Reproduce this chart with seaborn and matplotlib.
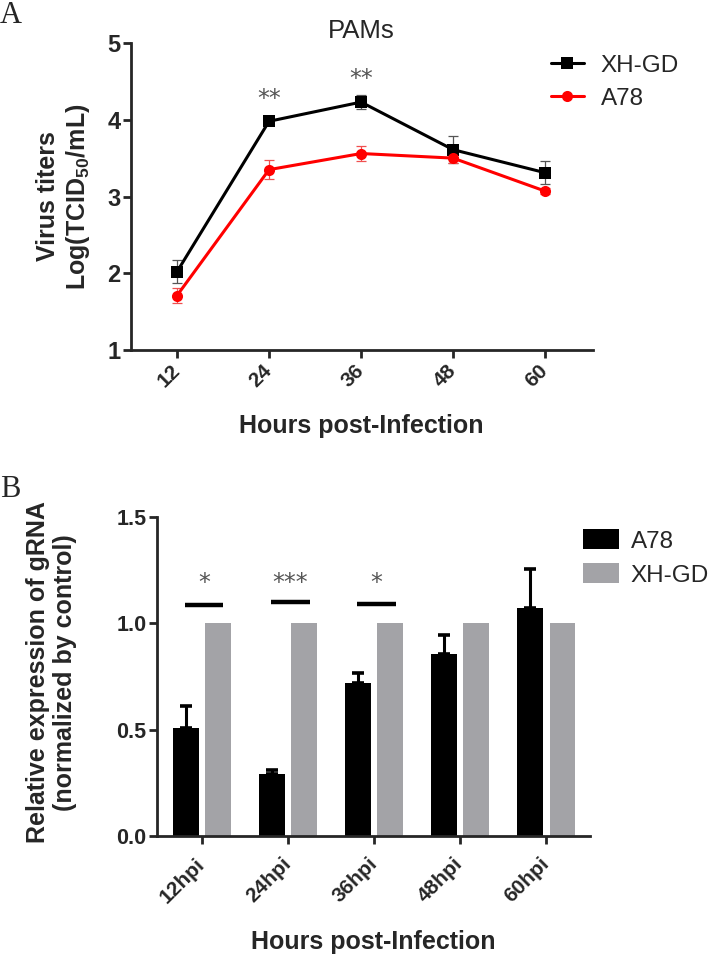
import numpy as np
import pandas as pd
import matplotlib
matplotlib.use("Agg")
import matplotlib.pyplot as plt
import seaborn as sns
from matplotlib.lines import Line2D
from matplotlib.patches import Patch

# ---------------- data ----------------
hours = [12, 24, 36, 48, 60]
xhgd_titer = [2.02, 3.98, 4.23, 3.61, 3.31]
xhgd_sem = [0.15, 0.03, 0.09, 0.18, 0.15]
a78_titer = [1.71, 3.35, 3.56, 3.50, 3.07]
a78_sem = [0.10, 0.12, 0.10, 0.07, 0.04]
sig_a_hours = [24, 36]
sig_a_labels = ["**", "**"]
sig_a_y = [4.27, 4.53]

hpi = ["12hpi", "24hpi", "36hpi", "48hpi", "60hpi"]
a78_rel = [0.51, 0.29, 0.72, 0.855, 1.07]
a78_rel_err = [0.10, 0.02, 0.047, 0.09, 0.185]
xhgd_rel = [1.0, 1.0, 1.0, 1.0, 1.0]
sig_b_index = [0, 1, 2]
sig_b_labels = ["*", "***", "*"]
sig_b_line_y = [1.087, 1.10, 1.09]
sig_b_star_y = 1.19

# ---------------- style ----------------
sns.set_style("ticks")
plt.rcParams["font.family"] = ["Liberation Sans", "DejaVu Sans"]
plt.rcParams["mathtext.fontset"] = "custom"
plt.rcParams["mathtext.rm"] = "Liberation Sans:bold"
plt.rcParams["mathtext.bf"] = "Liberation Sans:bold"
plt.rcParams["mathtext.default"] = "bf"
plt.rcParams["axes.linewidth"] = 2.0
plt.rcParams["xtick.major.width"] = 2.0
plt.rcParams["ytick.major.width"] = 2.0
plt.rcParams["xtick.major.size"] = 6
plt.rcParams["ytick.major.size"] = 5.5

W, H = 708, 958
fig = plt.figure(figsize=(W / 100, H / 100), dpi=100)


def box(l, t, r, b):
    return [l / W, 1 - b / H, (r - l) / W, (b - t) / H]


# ---------------- panel A ----------------
axA = fig.add_axes(box(130.7, 43, 592.7, 350))
dfA = pd.DataFrame({
    "hours": hours + hours,
    "titer": xhgd_titer + a78_titer,
    "strain": ["XH-GD"] * len(hours) + ["A78"] * len(hours),
})
palA = {"XH-GD": "black", "A78": "#ff0000"}
sns.lineplot(data=dfA, x="hours", y="titer", hue="strain", style="strain",
             hue_order=["XH-GD", "A78"], style_order=["XH-GD", "A78"],
             markers={"XH-GD": "s", "A78": "o"}, dashes=False, palette=palA,
             linewidth=2.2, markersize=8, markeredgewidth=0, ax=axA,
             legend=False, zorder=3)
axA.errorbar(hours, xhgd_titer, yerr=xhgd_sem, fmt="none", ecolor="#555555",
             elinewidth=0.9, capsize=3.5, capthick=0.9, zorder=2)
axA.errorbar(hours, a78_titer, yerr=a78_sem, fmt="none", ecolor="#f05050",
             elinewidth=0.9, capsize=3.5, capthick=0.9, zorder=2)
for hx, lab, yy in zip(sig_a_hours, sig_a_labels, sig_a_y):
    axA.text(hx, yy, lab, ha="center", va="center", fontsize=17,
             color="#555555", family=["DejaVu Sans"])

axA.set_xlim(5.96, 66.2)
axA.set_ylim(1, 5)
axA.set_xticks(hours)
axA.set_xticklabels([str(h) for h in hours], rotation=45, ha="right",
                    va="center", rotation_mode="anchor",
                    fontsize=15, fontweight="bold")
axA.set_yticks([1, 2, 3, 4, 5])
axA.set_yticklabels(["1", "2", "3", "4", "5"], fontsize=17, fontweight="bold")
axA.tick_params(axis="x", pad=7)
axA.tick_params(axis="y", pad=2)
sns.despine(ax=axA)
axA.set_title("PAMs", fontsize=18.5, pad=2)
axA.set_xlabel("Hours post-Infection", fontsize=18, fontweight="bold", va="center")
axA.xaxis.set_label_coords(0.5, (350 - 426) / 307)
axA.set_ylabel("Virus titers\nLog(TCID$_{50}$/mL)", fontsize=18,
               fontweight="bold", va="center", linespacing=1.15)
axA.yaxis.set_label_coords((64 - 130.7) / 462, 0.5)

hA = [Line2D([], [], color="black", marker="s", lw=2.2, ms=8, mew=0),
      Line2D([], [], color="#ff0000", marker="o", lw=2.2, ms=8, mew=0)]
fig.legend(hA, ["XH-GD", "A78"], loc="center left",
           bbox_to_anchor=(550.7 / W, 1 - 82.2 / H), frameon=False,
           fontsize=17.5, handlelength=1.36, handletextpad=0.7,
           labelspacing=0.45, borderpad=0, borderaxespad=0)

# ---------------- panel B ----------------
axB = fig.add_axes(box(156.7, 517, 590, 836))
dfB = pd.DataFrame({
    "hpi": hpi + hpi,
    "rel": a78_rel + xhgd_rel,
    "strain": ["A78"] * len(hpi) + ["XH-GD"] * len(hpi),
})
palB = {"A78": "black", "XH-GD": "#a3a3a7"}
sns.barplot(data=dfB, x="hpi", y="rel", hue="strain", hue_order=["A78", "XH-GD"],
            order=hpi, palette=palB, width=0.756, gap=0.21, errorbar=None,
            saturation=1, linewidth=0, ax=axB, legend=False)
bars = axB.containers[0]
xs = [b.get_x() + b.get_width() / 2 for b in bars]
axB.errorbar(xs, a78_rel, yerr=[np.zeros(len(a78_rel)), a78_rel_err], fmt="none",
             ecolor="black", elinewidth=2.2, capsize=4.3, capthick=2.6, zorder=1)
for i, lab, ly in zip(sig_b_index, sig_b_labels, sig_b_line_y):
    axB.plot([i - 0.2, i + 0.25], [ly, ly], color="black", lw=3.2,
             solid_capstyle="butt")
    axB.text(i + 0.03, sig_b_star_y, lab, ha="center", va="center",
             fontsize=17, color="#555555", family=["DejaVu Sans"])

axB.set_xlim(-0.526, 4.51)
axB.set_ylim(0, 1.5)
axB.set_yticks([0.0, 0.5, 1.0, 1.5])
axB.set_yticklabels(["0.0", "0.5", "1.0", "1.5"], fontsize=15.5, fontweight="bold")
axB.set_xticks(range(len(hpi)))
axB.set_xticklabels(hpi, rotation=45, ha="right", va="center",
                    rotation_mode="anchor", fontsize=15, fontweight="bold")
axB.tick_params(axis="x", pad=12)
axB.tick_params(axis="y", pad=2)
sns.despine(ax=axB)
axB.set_xlabel("Hours post-Infection", fontsize=18, fontweight="bold", va="center")
axB.xaxis.set_label_coords(0.5, (836 - 942) / 319)
axB.set_ylabel("Relative expression of gRNA\n(normalized by control)", fontsize=18,
               fontweight="bold", va="center", linespacing=1.15)
axB.yaxis.set_label_coords((51.7 - 156.7) / 433.3, (836 - 672.5) / 319)

hB = [Patch(facecolor="black", edgecolor="none"),
      Patch(facecolor="#a3a3a7", edgecolor="none")]
fig.legend(hB, ["A78", "XH-GD"], loc="center left",
           bbox_to_anchor=(582.7 / W, 1 - 558 / H), frameon=False,
           fontsize=17.5, handlelength=1.5, handleheight=0.88,
           handletextpad=0.47, labelspacing=0.45, borderpad=0, borderaxespad=0)

# ---------------- panel letters ----------------
fig.text(0.0, 1 - 23 / H, "A", fontsize=22, family=["Liberation Serif"], va="baseline")
fig.text(0.0, 1 - 497 / H, "B", fontsize=22, family=["Liberation Serif"], va="baseline")

fig.savefig("out.png", dpi=100)
